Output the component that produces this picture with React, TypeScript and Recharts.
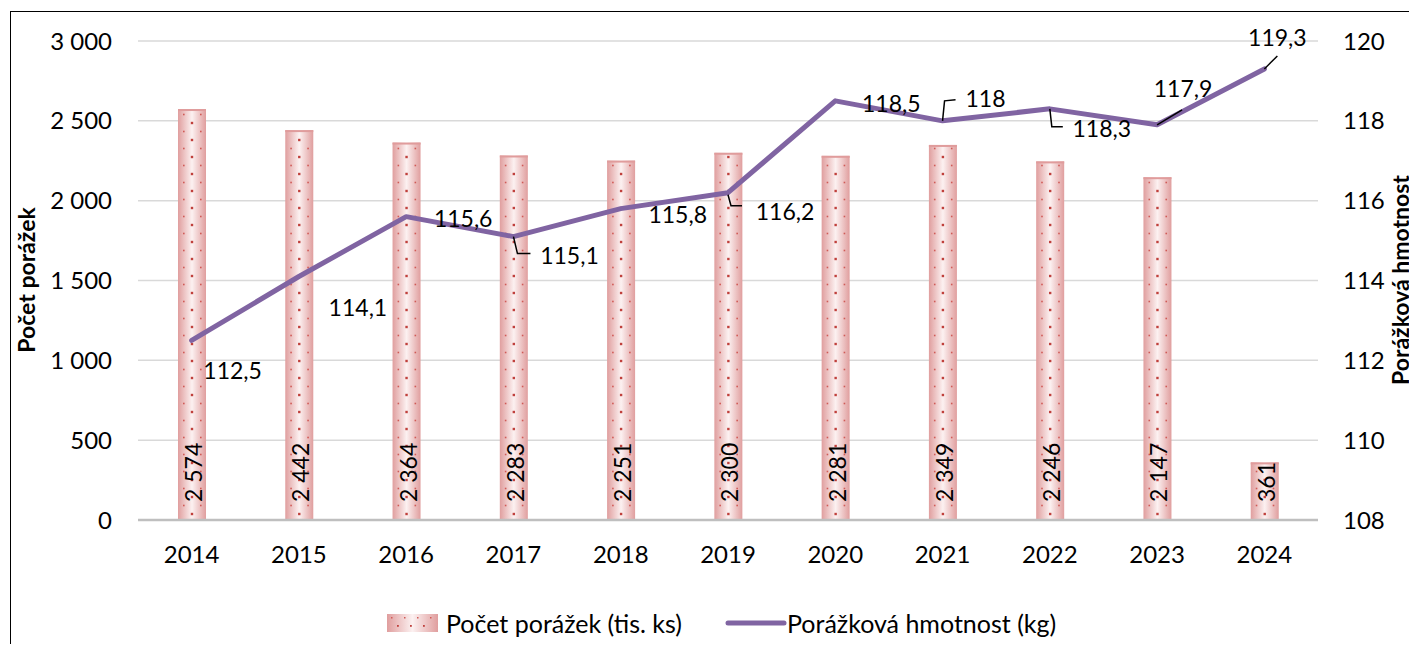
import React from 'react';
import { ComposedChart, Bar, Line, XAxis, YAxis, CartesianGrid, LabelList } from 'recharts';

const years = ['2014', '2015', '2016', '2017', '2018', '2019', '2020', '2021', '2022', '2023', '2024'];
const counts = [2574, 2442, 2364, 2283, 2251, 2300, 2281, 2349, 2246, 2147, 361];
const weights = [112.5, 114.1, 115.6, 115.1, 115.8, 116.2, 118.5, 118, 118.3, 117.9, 119.3];
const leftTicks = [0, 500, 1000, 1500, 2000, 2500, 3000];
const rightTicks = [108, 110, 112, 114, 116, 118, 120];
const seriesNames = ['Počet porážek (tis. ks)', 'Porážková hmotnost (kg)'];
const axisTitles = ['Počet porážek', 'Porážková hmotnost'];

const data = years.map((y, i) => ({ year: y, count: counts[i], weight: weights[i] }));

const FONT = 'Lato, "Open Sans", sans-serif';
const FS = 23;
const TICK_FS = 24;
const LEGEND_FS = 25;
const LINE_COLOR = '#8064a2';

const fmtThousands = (v: number) => String(Math.round(v)).replace(/\B(?=(\d{3})+(?!\d))/g, '\u00a0');
const fmtDec = (v: number) => String(v).replace('.', ',');

// label placement (dx, dy of label centre relative to point) and leader polyline
const labelPlacement: { dx: number; dy: number; leader?: number[][] }[] = [
  { dx: 41, dy: 30 },
  { dx: 59, dy: 30 },
  { dx: 57, dy: 1 },
  { dx: 56, dy: 18, leader: [[0, 0], [4, 17], [17, 17]] },
  { dx: 57, dy: 5 },
  { dx: 57, dy: 18, leader: [[0, 2], [3, 13], [14, 13]] },
  { dx: 56, dy: 2 },
  { dx: 43, dy: -23, leader: [[0, 0], [2, -20], [13, -21]] },
  { dx: 52, dy: 19, leader: [[0, 0], [2, 18], [13, 18]] },
  { dx: 26, dy: -37, leader: [[0, 0], [25, -15]] },
  { dx: 13, dy: -32, leader: [[0, 0], [13, -13]] },
];

function BarShape(props: any) {
  const { x, y, width, height } = props;
  if (!height || height <= 0) return null;
  const cx = x + width / 2;
  const dots: React.ReactNode[] = [];
  const bottom = y + height;
  let k = 0;
  for (let yy = bottom - 6; yy > y + 3; yy -= 17) {
    dots.push(<rect key={'c' + k} x={cx - 1.2} y={yy - 1.2} width={2.4} height={2.4} fill="#c0403c" />);
    const ys = yy - 8.5;
    if (ys > y + 3) {
      dots.push(<rect key={'l' + k} x={cx - 9} y={ys - 0.8} width={1.6} height={1.6} fill="#d05a56" />);
      dots.push(<rect key={'r' + k} x={cx + 8} y={ys - 0.8} width={1.6} height={1.6} fill="#d05a56" />);
    }
    k++;
  }
  return (
    <g>
      <rect x={x} y={y} width={width} height={height} fill="url(#barGrad)" />
      <rect x={x} y={y} width={width} height={2} fill="#e09c9c" />
      {dots}
    </g>
  );
}

function BarValueLabel(props: any) {
  const { x, y, width, height, value } = props;
  const cx = x + width / 2 + 1;
  const sy = y + height - 18;
  return (
    <text
      x={cx}
      y={sy}
      transform={`rotate(-90 ${cx} ${sy})`}
      textAnchor="start"
      dominantBaseline="central"
      fontFamily={FONT}
      fontSize={FS}
      fill="#000"
    >
      {fmtThousands(value)}
    </text>
  );
}

function LineValueLabel(props: any) {
  const { x, y, value, index } = props;
  const p = labelPlacement[index] || { dx: 0, dy: -20 };
  return (
    <g>
      {p.leader && (
        <polyline
          points={p.leader.map(([a, b]) => `${x + a},${y + b}`).join(' ')}
          fill="none"
          stroke="#000"
          strokeWidth={1.5}
        />
      )}
      <text
        x={x + p.dx}
        y={y + p.dy}
        textAnchor="middle"
        dominantBaseline="central"
        fontFamily={FONT}
        fontSize={FS}
        fill="#000"
      >
        {fmtDec(value)}
      </text>
    </g>
  );
}

const tickStyle = { fontFamily: FONT, fontSize: TICK_FS, fill: '#000' };

export default function App() {
  return (
    <div style={{ position: 'relative', width: 1409, height: 636, overflow: 'hidden', fontFamily: FONT }}>
      <div
        style={{
          position: 'absolute',
          left: 2,
          top: 3,
          width: 1500,
          height: 800,
          borderTop: '1.5px solid #000',
          borderLeft: '1.5px solid #000',
          boxSizing: 'border-box',
        }}
      />
      <div style={{ position: 'absolute', left: 0, top: 0 }}>
        <ComposedChart
          width={1409}
          height={636}
          data={data}
          margin={{ top: 33, right: 0, bottom: 84, left: 0 }}
          barCategoryGap={0}
        >
          <defs>
            <linearGradient id="barGrad" x1="0" y1="0" x2="1" y2="0">
              <stop offset="0%" stopColor="#e09e9e" />
              <stop offset="50%" stopColor="#fcf1f1" />
              <stop offset="100%" stopColor="#e09e9e" />
            </linearGradient>
          </defs>
          <CartesianGrid yAxisId="left" vertical={false} stroke="#d9d9d9" strokeWidth={1.5} />
          <XAxis
            dataKey="year"
            tick={tickStyle}
            tickLine={false}
            tickSize={0}
            tickMargin={26}
            axisLine={{ stroke: '#bfbfbf', strokeWidth: 2.5 }}
            height={40}
            interval={0}
          />
          <YAxis
            yAxisId="left"
            orientation="left"
            domain={[0, 3000]}
            ticks={leftTicks}
            tickFormatter={fmtThousands}
            tick={tickStyle}
            tickLine={false}
            axisLine={false}
            tickSize={0}
            tickMargin={26}
            width={130}
            interval={0}
          />
          <YAxis
            yAxisId="right"
            orientation="right"
            domain={[108, 120]}
            ticks={rightTicks}
            tick={tickStyle}
            tickLine={false}
            axisLine={false}
            tickSize={0}
            tickMargin={25}
            width={99}
            interval={0}
          />
          <Bar
            yAxisId="left"
            dataKey="count"
            barSize={28}
            shape={<BarShape />}
            isAnimationActive={false}
          >
            <LabelList dataKey="count" content={<BarValueLabel />} />
          </Bar>
          <Line
            yAxisId="right"
            dataKey="weight"
            stroke={LINE_COLOR}
            strokeWidth={5}
            dot={false}
            activeDot={false}
            strokeLinejoin="round"
            strokeLinecap="round"
            isAnimationActive={false}
          >
            <LabelList dataKey="weight" content={<LineValueLabel />} />
          </Line>
        </ComposedChart>
      </div>
      <div
        style={{
          position: 'absolute',
          left: 18,
          top: 272,
          transform: 'translate(-50%, -50%) rotate(-90deg)',
          whiteSpace: 'nowrap',
          fontWeight: 700,
          fontSize: FS,
          lineHeight: 1,
        }}
      >
        {axisTitles[0]}
      </div>
      <div
        style={{
          position: 'absolute',
          left: 1392,
          top: 272,
          transform: 'translate(-50%, -50%) rotate(-90deg)',
          whiteSpace: 'nowrap',
          fontWeight: 700,
          fontSize: FS,
          lineHeight: 1,
        }}
      >
        {axisTitles[1]}
      </div>
      <svg style={{ position: 'absolute', left: 379, top: 606 }} width={51} height={18}>
        <defs>
          <linearGradient id="legGrad" x1="0" y1="0" x2="1" y2="0">
            <stop offset="0%" stopColor="#e09e9e" />
            <stop offset="50%" stopColor="#fcf1f1" />
            <stop offset="100%" stopColor="#e09e9e" />
          </linearGradient>
        </defs>
        <rect x={0} y={0} width={51} height={18} fill="url(#legGrad)" />
        {[4, 17, 30, 43].map((dx) => (
          <rect key={'a' + dx} x={dx} y={3} width={1.5} height={1.5} fill="#d05a56" />
        ))}
        {[10, 23, 36].map((dx) => (
          <rect key={'b' + dx} x={dx} y={11} width={1.8} height={1.8} fill="#c0403c" />
        ))}
      </svg>
      <div
        style={{
          position: 'absolute',
          left: 438,
          top: 615,
          transform: 'translateY(-50%)',
          whiteSpace: 'nowrap',
          fontSize: LEGEND_FS,
          lineHeight: 1,
        }}
      >
        {seriesNames[0]}
      </div>
      <svg style={{ position: 'absolute', left: 717, top: 608 }} width={62} height={14}>
        <line x1={3} y1={7} x2={59} y2={7} stroke={LINE_COLOR} strokeWidth={5} strokeLinecap="round" />
      </svg>
      <div
        style={{
          position: 'absolute',
          left: 779,
          top: 615,
          transform: 'translateY(-50%)',
          whiteSpace: 'nowrap',
          fontSize: LEGEND_FS,
          lineHeight: 1,
        }}
      >
        {seriesNames[1]}
      </div>
    </div>
  );
}
